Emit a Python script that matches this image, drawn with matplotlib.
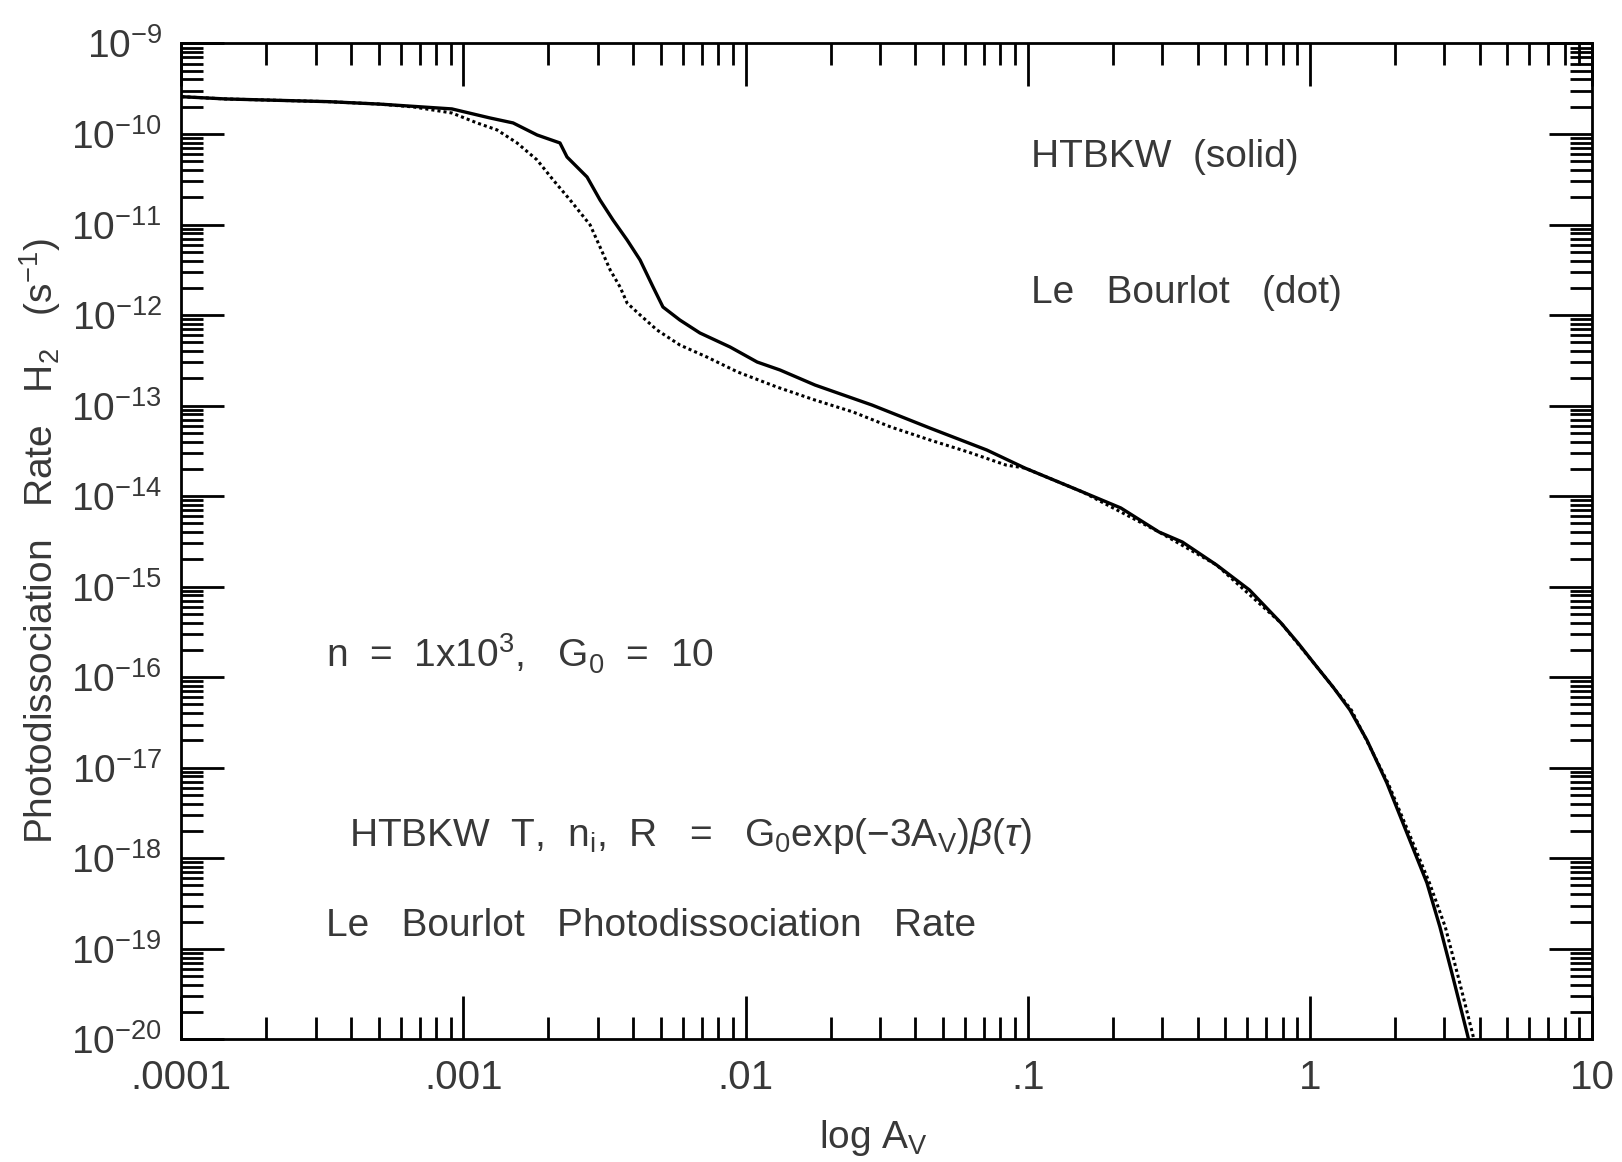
import numpy as np
import matplotlib.pyplot as plt
from matplotlib.ticker import FixedLocator, FixedFormatter, LogLocator, NullFormatter

plt.rcParams['font.family'] = ['Liberation Sans', 'DejaVu Sans']
plt.rcParams['mathtext.fontset'] = 'custom'
plt.rcParams['mathtext.rm'] = 'Liberation Sans'
plt.rcParams['mathtext.it'] = 'Liberation Sans:italic'

# log10(A_V) and log10(rate / s^-1) for the HTBKW model (solid)
log_av_htbkw = [-4.0, -3.842, -3.477, -3.296, -3.041, -2.906, -2.824, -2.739, -2.658,
                -2.633, -2.562, -2.516, -2.470, -2.420, -2.374, -2.328, -2.293, -2.233,
                -2.162, -2.055, -1.959, -1.878, -1.754, -1.552, -1.347, -1.145, -1.010,
                -0.805, -0.670, -0.535, -0.452, -0.331, -0.214, -0.102, -0.042, 0.025,
                0.082, 0.142, 0.202, 0.273, 0.344, 0.415, 0.461, 0.507, 0.557, 0.567]
log_rate_htbkw = [-9.588, -9.613, -9.643, -9.670, -9.723, -9.823, -9.878, -10.011, -10.099,
                  -10.254, -10.475, -10.729, -10.950, -11.171, -11.392, -11.690, -11.911, -12.055,
                  -12.198, -12.353, -12.519, -12.607, -12.773, -12.994, -13.248, -13.491, -13.690,
                  -13.955, -14.131, -14.396, -14.507, -14.760, -15.037, -15.402, -15.623, -15.887,
                  -16.108, -16.362, -16.694, -17.169, -17.721, -18.273, -18.759, -19.312, -19.930,
                  -20.06]

# same quantities for the Le Bourlot rate (dotted)
log_av_lebourlot = [-4.0, -3.842, -3.477, -3.296, -3.178, -3.041, -2.952, -2.881, -2.810,
                    -2.739, -2.682, -2.622, -2.551, -2.516, -2.480, -2.445, -2.420, -2.374,
                    -2.314, -2.233, -2.137, -2.028, -1.889, -1.754, -1.619, -1.485, -1.347,
                    -1.211, -1.077, -1.010, -0.805, -0.535, -0.331, -0.102, 0.025, 0.147,
                    0.277, 0.351, 0.424, 0.480, 0.526, 0.576, 0.586]
log_rate_lebourlot = [-9.588, -9.613, -9.643, -9.670, -9.701, -9.768, -9.878, -9.955, -10.099,
                      -10.287, -10.508, -10.729, -11.005, -11.248, -11.502, -11.690, -11.867, -11.999,
                      -12.165, -12.331, -12.464, -12.629, -12.795, -12.939, -13.071, -13.237, -13.380,
                      -13.513, -13.657, -13.690, -13.955, -14.396, -14.760, -15.402, -15.887, -16.362,
                      -17.169, -17.721, -18.273, -18.759, -19.312, -19.930, -20.06]

x_major = [1e-4, 1e-3, 1e-2, 1e-1, 1, 10]
x_labels = ['.0001', '.001', '.01', '.1', '1', '10']
y_exponents = list(range(-20, -8))

txt_color = '#383838'
fs = 28

fig = plt.figure(figsize=(16.22, 11.62), dpi=100)
ax = fig.add_axes([0.1118, 0.1056, 0.8697, 0.8570])

ax.plot(10 ** np.array(log_av_htbkw), 10 ** np.array(log_rate_htbkw),
        color='black', lw=2.4)
ax.plot(10 ** np.array(log_av_lebourlot), 10 ** np.array(log_rate_lebourlot),
        color='black', lw=2.2, linestyle=(0, (1.0, 1.0)))

ax.set_xscale('log')
ax.set_yscale('log')
ax.set_xlim(1e-4, 10)
ax.set_ylim(1e-20, 1e-9)

ax.xaxis.set_major_locator(FixedLocator(x_major))
ax.xaxis.set_major_formatter(FixedFormatter(x_labels))
ax.xaxis.set_minor_locator(LogLocator(base=10, subs=np.arange(2, 10), numticks=20))
ax.xaxis.set_minor_formatter(NullFormatter())

y_major = [10.0 ** e for e in y_exponents]
ax.yaxis.set_major_locator(FixedLocator(y_major))
ax.yaxis.set_major_formatter(FixedFormatter(
    [r'$\mathregular{10^{%d}}$' % e for e in y_exponents]))
ax.yaxis.set_minor_locator(LogLocator(base=10, subs=np.arange(2, 10), numticks=30))
ax.yaxis.set_minor_formatter(NullFormatter())

for s in ax.spines.values():
    s.set_linewidth(2.0)

ax.tick_params(which='both', direction='in', top=True, right=True, width=2.0,
               colors='black', labelcolor=txt_color, labelsize=fs)
ax.tick_params(which='major', length=31)
ax.tick_params(which='minor', length=16)
ax.tick_params(axis='x', which='major', labelsize=29, pad=14)
ax.tick_params(axis='y', which='major', pad=14)

fig.text(40 / 1622, 1 - 541 / 1162,
         r'Photodissociation   Rate   H$_\mathregular{2}$   (s$^{\mathregular{-1}}$)',
         rotation=90, ha='center', va='center', fontsize=fs, color=txt_color)
fig.text(874 / 1622, 1 - 1138 / 1162, r'log A$_\mathregular{V}$',
         ha='center', va='center', fontsize=fs, color=txt_color)

ax.text(1.03e-1, 5.6e-11, 'HTBKW  (solid)', fontsize=fs, color=txt_color,
        ha='left', va='center')
ax.text(1.03e-1, 1.75e-12, 'Le   Bourlot   (dot)', fontsize=fs, color=txt_color,
        ha='left', va='center')
ax.text(3.26e-4, 1.8e-16,
        r'n  =  1x10$^{\mathregular{3}}$,   G$_\mathregular{0}$  =  10',
        fontsize=fs, color=txt_color, ha='left', va='center')
ax.text(3.93e-4, 1.76e-18,
        r'HTBKW  T,  n$_\mathregular{i}$,  R   =   G$_\mathregular{0}$exp($-$3A$_\mathregular{V}$)$\beta$($\tau$)',
        fontsize=fs, color=txt_color, ha='left', va='center')
ax.text(3.26e-4, 1.79e-19, 'Le   Bourlot   Photodissociation   Rate', fontsize=fs,
        color=txt_color, ha='left', va='center')

fig.savefig('out.png', dpi=100)
